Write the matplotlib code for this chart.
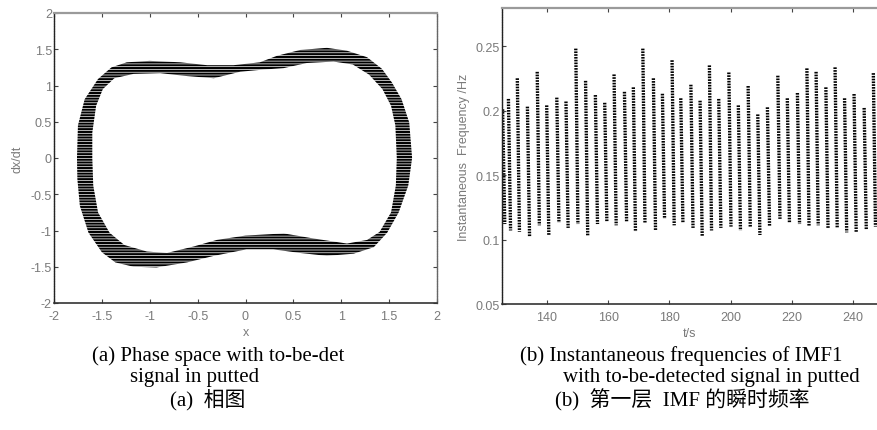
import matplotlib
matplotlib.use("Agg")
import matplotlib.pyplot as plt
from matplotlib.path import Path
from matplotlib.patches import PathPatch

plt.rcParams['hatch.linewidth'] = 1.5
plt.rcParams['lines.scale_dashes'] = False

# ---------------- data: phase space band ----------------
outer_x = [1.74, 1.71, 1.63, 1.53, 1.425, 1.27, 1.06, 0.85, 0.57, 0.33, 0.15, -0.125,
           -0.40, -0.68, -1.00, -1.24, -1.40, -1.54, -1.68, -1.75, -1.76,
           -1.756, -1.73, -1.64, -1.50, -1.36, -1.17, -0.93, -0.61, -0.33, 0.01,
           0.29, 0.57, 0.85, 1.13, 1.34, 1.48, 1.60, 1.70]
outer_y = [0.00, 0.49, 0.81, 1.04, 1.23, 1.39, 1.48, 1.52, 1.49, 1.41, 1.32, 1.28,
           1.28, 1.32, 1.34, 1.32, 1.25, 1.09, 0.81, 0.45, 0.00,
           -0.29, -0.66, -1.03, -1.30, -1.44, -1.50, -1.51, -1.44, -1.35, -1.26,
           -1.26, -1.31, -1.35, -1.32, -1.23, -1.03, -0.75, -0.38]
inner_x = [1.58, 1.565, 1.52, 1.43, 1.29, 1.12, 0.92, 0.64, 0.40, 0.19, -0.056,
           -0.33, -0.61, -0.89, -1.17, -1.37, -1.49, -1.56, -1.60, -1.60,
           -1.59, -1.54, -1.42, -1.265, -1.03, -0.82, -0.54, -0.30, 0.00,
           0.40, 0.71, 1.06, 1.27, 1.40, 1.52, 1.57]
inner_y = [0.00, 0.45, 0.72, 0.95, 1.15, 1.29, 1.33, 1.31, 1.24, 1.22, 1.19,
           1.10, 1.13, 1.17, 1.16, 1.10, 0.95, 0.72, 0.35, 0.00,
           -0.38, -0.75, -1.03, -1.20, -1.29, -1.31, -1.22, -1.13, -1.07,
           -1.04, -1.11, -1.18, -1.13, -1.02, -0.75, -0.38]

# ---------------- data: instantaneous frequency of IMF1 ----------------
peak_t = [125.5, 127.4, 130.3, 133.6, 136.8, 139.9, 143.2, 146.2, 149.4, 152.6, 155.8,
          158.85, 161.9, 165.3, 168.2, 171.3, 174.75, 177.7, 180.85, 183.7, 187.0,
          190.0, 193.05, 196.1, 199.4, 202.5, 205.7, 208.85, 212.0, 215.4, 218.5,
          221.8, 224.9, 227.9, 231.1, 234.1, 237.2, 240.3, 243.6, 246.6]
peak_v = [0.201, 0.209, 0.225, 0.203, 0.230, 0.204, 0.210, 0.207, 0.248, 0.223, 0.212,
          0.206, 0.228, 0.2145, 0.218, 0.248, 0.225, 0.213, 0.239, 0.2095, 0.220,
          0.2076, 0.235, 0.209, 0.2295, 0.204, 0.219, 0.197, 0.2025, 0.227, 0.2095,
          0.2136, 0.2327, 0.230, 0.218, 0.2335, 0.2095, 0.2128, 0.202, 0.229]
trough_v = [0.112, 0.107, 0.106, 0.1025, 0.111, 0.103, 0.113, 0.109, 0.112, 0.103, 0.112,
            0.114, 0.111, 0.114, 0.106, 0.113, 0.107, 0.116, 0.111, 0.113, 0.109,
            0.1025, 0.107, 0.109, 0.110, 0.107, 0.110, 0.1035, 0.110, 0.116, 0.113,
            0.112, 0.110, 0.111, 0.109, 0.109, 0.1055, 0.106, 0.1075, 0.110]
fall_dt = 0.7

x_ticks = [-2, -1.5, -1, -0.5, 0, 0.5, 1, 1.5, 2]
x_tick_labels = ['-2', '-1.5', '-1', '-0.5', '0', '0.5', '1', '1.5', '2']
t_ticks = [140, 160, 180, 200, 220, 240]
f_ticks = [0.05, 0.1, 0.15, 0.2, 0.25]
f_tick_labels = ['0.05', '0.1', '0.15', '0.2', '0.25']

caption_a = ["(a) Phase space with to-be-det", "signal in putted", "(a)  相图"]
caption_b = ["(b) Instantaneous frequencies of IMF1",
             "with to-be-detected signal in putted",
             "(b)  第一层  IMF 的瞬时频率"]

W, H = 877, 431
fig = plt.figure(figsize=(W / 100, H / 100), dpi=100)
fig.patch.set_facecolor('white')

GRAY = '#7a7a7a'
SANS = ['Liberation Sans', 'DejaVu Sans']


def style_axes(ax, right_visible=True):
    ax.tick_params(direction='in', length=3, width=0.8, color='#444',
                   top=True, right=right_visible, labelsize=9, labelcolor=GRAY)
    ax.tick_params(axis='x', pad=5)
    ax.tick_params(axis='y', pad=1.5)
    for lab in ax.get_xticklabels() + ax.get_yticklabels():
        lab.set_family(SANS)
    ax.spines['top'].set_color('#9a9a9a')
    ax.spines['top'].set_linewidth(1.6)
    ax.spines['left'].set_linestyle((0, (1.0, 0.8)))
    ax.spines['left'].set_color('#222')
    ax.spines['left'].set_linewidth(1.0)
    ax.spines['bottom'].set_color('#333')
    ax.spines['bottom'].set_linewidth(1.2)
    if right_visible:
        ax.spines['right'].set_linestyle((0, (1.0, 0.8)))
        ax.spines['right'].set_color('#666')
        ax.spines['right'].set_linewidth(1.0)
    else:
        ax.spines['right'].set_visible(False)


# ---------------- left: phase space ----------------
ax1 = fig.add_axes([54 / W, 1 - 304 / H, 383 / W, 290 / H])
verts = list(zip(outer_x, outer_y)) + [(outer_x[0], outer_y[0])]
codes = [Path.MOVETO] + [Path.LINETO] * (len(outer_x) - 1) + [Path.CLOSEPOLY]
inner = list(zip(inner_x, inner_y))[::-1]
verts += inner + [inner[0]]
codes += [Path.MOVETO] + [Path.LINETO] * (len(inner) - 1) + [Path.CLOSEPOLY]
band = PathPatch(Path(verts, codes), facecolor='white', edgecolor='black',
                 linewidth=0, hatch='------')
ax1.add_patch(band)
ax1.set_xlim(-2, 2)
ax1.set_ylim(-2, 2)
ax1.set_xticks(x_ticks)
ax1.set_xticklabels(x_tick_labels)
ax1.set_yticks(x_ticks)
ax1.set_yticklabels(x_tick_labels)
style_axes(ax1)
ax1.set_xlabel('x', fontsize=9, color=GRAY, family=SANS, labelpad=3)
ax1.set_ylabel('dx/dt', fontsize=9, color=GRAY, family=SANS, labelpad=5)

# ---------------- right: instantaneous frequency ----------------
ax2 = fig.add_axes([502 / W, 1 - 305 / H, (W - 502) / W, 296 / H])
for tp, pv, tv in zip(peak_t, peak_v, trough_v):
    ax2.plot([tp, tp + fall_dt], [pv, tv], color='black', lw=2.4,
             linestyle=(0, (1.2, 0.8)), dash_capstyle='butt', solid_capstyle='butt')
ax2.set_xlim(125.3, 247.8)
ax2.set_ylim(0.05, 0.2795)
ax2.set_xticks(t_ticks)
ax2.set_yticks(f_ticks)
ax2.set_yticklabels(f_tick_labels)
style_axes(ax2, right_visible=False)
ax2.set_xlabel('t/s', fontsize=9, color=GRAY, family=SANS, labelpad=3)
ax2.set_ylabel('Instantaneous  Frequency /Hz', fontsize=9, color=GRAY,
               family=SANS, labelpad=4)

# ---------------- captions ----------------
cap_font = ['Liberation Serif', 'Noto Sans CJK SC']
cap_a_x = [92, 130, 170]
cap_b_x = [520, 563, 555]
cap_y = [356, 378, 400]
for txt, x, y in zip(caption_a, cap_a_x, cap_y):
    fig.text(x / W, 1 - y / H, txt, family=cap_font, fontsize=15, ha='left', va='center')
for txt, x, y in zip(caption_b, cap_b_x, cap_y):
    fig.text(x / W, 1 - y / H, txt, family=cap_font, fontsize=15, ha='left', va='center')

fig.savefig('out.png', dpi=100, facecolor='white')
